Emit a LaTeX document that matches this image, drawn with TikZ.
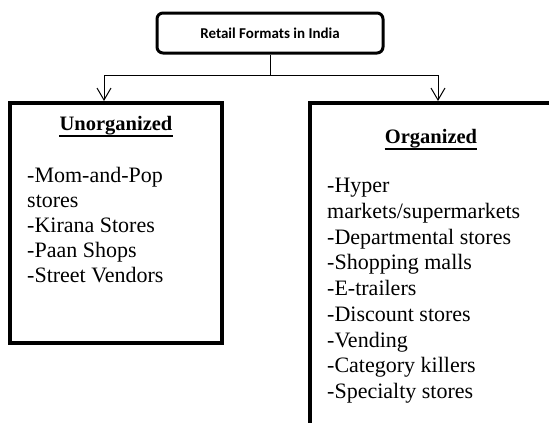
\documentclass[tikz,border=0pt]{standalone}
\usepackage{fontspec}
\setmainfont{Liberation Serif}
\newfontfamily\titlefont{Carlito}
\usetikzlibrary{arrows.meta}
\begin{document}
\begin{tikzpicture}[x=1pt,y=-1pt,
  titlebox/.style={draw,line width=3pt,rounded corners=6pt,minimum width=226pt,minimum height=40pt,inner sep=0pt,
    font=\titlefont\bfseries\fontsize{15}{18}\selectfont},
  groupbox/.style={draw,line width=4pt,inner sep=0pt},
  heading/.style={inner sep=0pt,font=\bfseries\fontsize{20.5}{24}\selectfont},
  ulrule/.style={line width=2pt},
  itemlist/.style={inner sep=0pt,align=left,anchor=north west,font=\fontsize{22}{25}\selectfont},
  conn/.style={line width=1pt},
  arr/.style={-{Straight Barb[length=12pt,width=14pt,line width=1pt]}}]
\useasboundingbox (0,0) rectangle (549,423);
\clip (0,0) rectangle (549,423);

% title
\node[titlebox] (title) at (270,33) {Retail Formats in India};

% the two groups
\node[groupbox,minimum width=212pt,minimum height=240pt] (lbox) at (116,223) {};
\node[groupbox,minimum width=256pt,minimum height=340pt] (rbox) at (438,273) {};
\coordinate (lhit) at ([xshift=-12pt]lbox.north);

% connectors
\draw[conn,arr] (title.south) -- ++(0,21) -| (lhit);
\draw[conn,arr] (title.south) -- ++(0,21) -| (rbox.north);

% headings
\node[heading,anchor=base] (uh) at (116,130) {Unorganized};
\draw[ulrule] ([yshift=-1.5pt]uh.south west) -- ([yshift=-1.5pt]uh.south east);
\node[heading,anchor=base] (oh) at (431,143) {Organized};
\draw[ulrule] ([yshift=-1.5pt]oh.south west) -- ([yshift=-1.5pt]oh.south east);

% item lists
\node[itemlist] (ulist) at (27,167) {-Mom-and-Pop\\stores\\-Kirana Stores\\-Paan Shops\\-Street Vendors};
\node[itemlist,font=\fontsize{22}{25.75}\selectfont] (olist) at (327,178) {-Hyper\\markets/supermarkets\\-Departmental stores\\-Shopping malls\\-E-trailers\\-Discount stores\\-Vending\\-Category killers\\-Specialty stores};
\end{tikzpicture}
\end{document}
